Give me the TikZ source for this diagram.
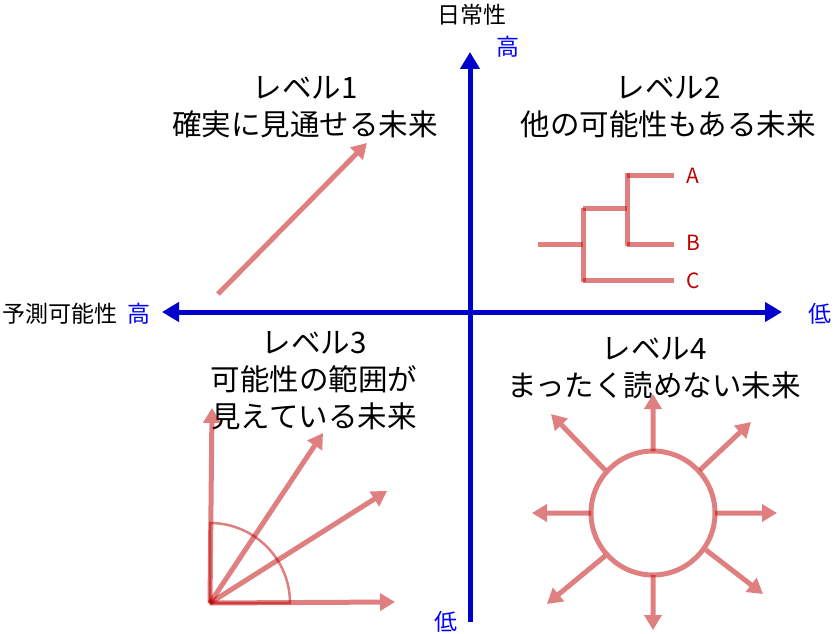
\documentclass[tikz,border=0pt]{standalone}
\usepackage{fontspec}
\setmainfont{Noto Sans CJK JP}
\usetikzlibrary{arrows.meta}
\definecolor{axisblue}{RGB}{0,0,204}
\definecolor{lab}{RGB}{0,0,255}
\definecolor{pred}{RGB}{192,0,0}
\tikzset{
  ax/.style={line width=5pt, axisblue, {Triangle[length=17pt,width=19pt]}-{Triangle[length=17pt,width=19pt]}},
  rarr/.style={line width=5pt, pred, -{Triangle[length=15pt,width=17pt]}},
  tline/.style={line width=5pt, pred, opacity=0.5},
  big/.style={font=\fontsize{29.5}{37}\selectfont, align=center, inner sep=0pt},
  mid/.style={font=\fontsize{23}{27}\selectfont, inner sep=0pt},
  abc/.style={font=\fontsize{21}{25}\selectfont, inner sep=0pt, text=pred},
}
\newcommand{\tarrow}[2]{\begin{scope}[transparency group, opacity=0.5]\draw[rarr] (#1) -- (#2);\end{scope}}
\begin{document}
\begin{tikzpicture}[x=1pt,y=-1pt]
\useasboundingbox (0,0) rectangle (839,634);
% axes
\coordinate (xl) at (162,312);
\coordinate (xr) at (782,312);
\coordinate (yt) at (470,52);
\coordinate (yb) at (470,622);
\draw[line width=5pt, axisblue, -{Triangle[length=17pt,width=19pt]}] (yb) -- (yt);
\draw[ax] (xl) -- (xr);
% axis labels
\node[mid] (ylab) at (472,15) {日常性};
\node[mid, text=lab] (yhi) at (508,47) {高};
\node[mid, anchor=west] (xlab) at (2,314) {予測可能性};
\node[mid, text=lab] (xhi) at (139,314) {高};
\node[mid, text=lab] (xlo) at (820,314) {低};
\node[mid, text=lab] (ylo) at (446,622) {低};
% level texts
\node[big] (t1) at (305,107) {レベル1\\確実に見通せる未来};
\node[big] (t2) at (668,107) {レベル2\\他の可能性もある未来};
\node[big] (t3) at (314,381) {レベル3\\可能性の範囲が\\見えている未来};
\node[big] (t4) at (654,368) {レベル4\\まったく読めない未来};
% level 1 arrow
\coordinate (a1s) at (218,294);
\coordinate (a1e) at (367,143);
\tarrow{a1s}{a1e}
% level 2 tree
\draw[tline] (538,244) -- (583,244);
\draw[tline] (583,208) -- (583,282);
\draw[tline] (583,208) -- (627,208);
\draw[tline] (583,280) -- (674,280);
\draw[tline] (627,173) -- (627,246);
\draw[tline] (627,175) -- (674,175);
\draw[tline] (627,244) -- (674,244);
\node[abc] (A) at (693,176) {A};
\node[abc] (B) at (693,243) {B};
\node[abc] (C) at (693,281) {C};
% level 3
\coordinate (o) at (210,603);
\coordinate (p1) at (212,408);
\coordinate (p2) at (323,433);
\coordinate (p3) at (387,491);
\coordinate (p4) at (395,602);
\draw[pred, opacity=0.5, line width=2.5pt] (o) -- (210,523) arc[start angle=90, end angle=0, radius=80pt] -- cycle;
\tarrow{o}{p1}
\tarrow{o}{p2}
\tarrow{o}{p3}
\tarrow{o}{p4}
% level 4
\node[circle, draw=pred, draw opacity=0.5, line width=5pt, minimum size=124pt, inner sep=0pt] (sun) at (653,513) {};
\coordinate (s1) at (653,451); \coordinate (e1) at (653,394);
\coordinate (s2) at (700,470); \coordinate (e2) at (751,422);
\coordinate (s3) at (715,513); \coordinate (e3) at (777,513);
\coordinate (s4) at (706,550); \coordinate (e4) at (763,594);
\coordinate (s5) at (653,575); \coordinate (e5) at (653,630);
\coordinate (s6) at (605,556); \coordinate (e6) at (547,604);
\coordinate (s7) at (591,513); \coordinate (e7) at (532,513);
\coordinate (s8) at (605,470); \coordinate (e8) at (551,414);
\tarrow{s1}{e1}
\tarrow{s2}{e2}
\tarrow{s3}{e3}
\tarrow{s4}{e4}
\tarrow{s5}{e5}
\tarrow{s6}{e6}
\tarrow{s7}{e7}
\tarrow{s8}{e8}
\end{tikzpicture}
\end{document}
